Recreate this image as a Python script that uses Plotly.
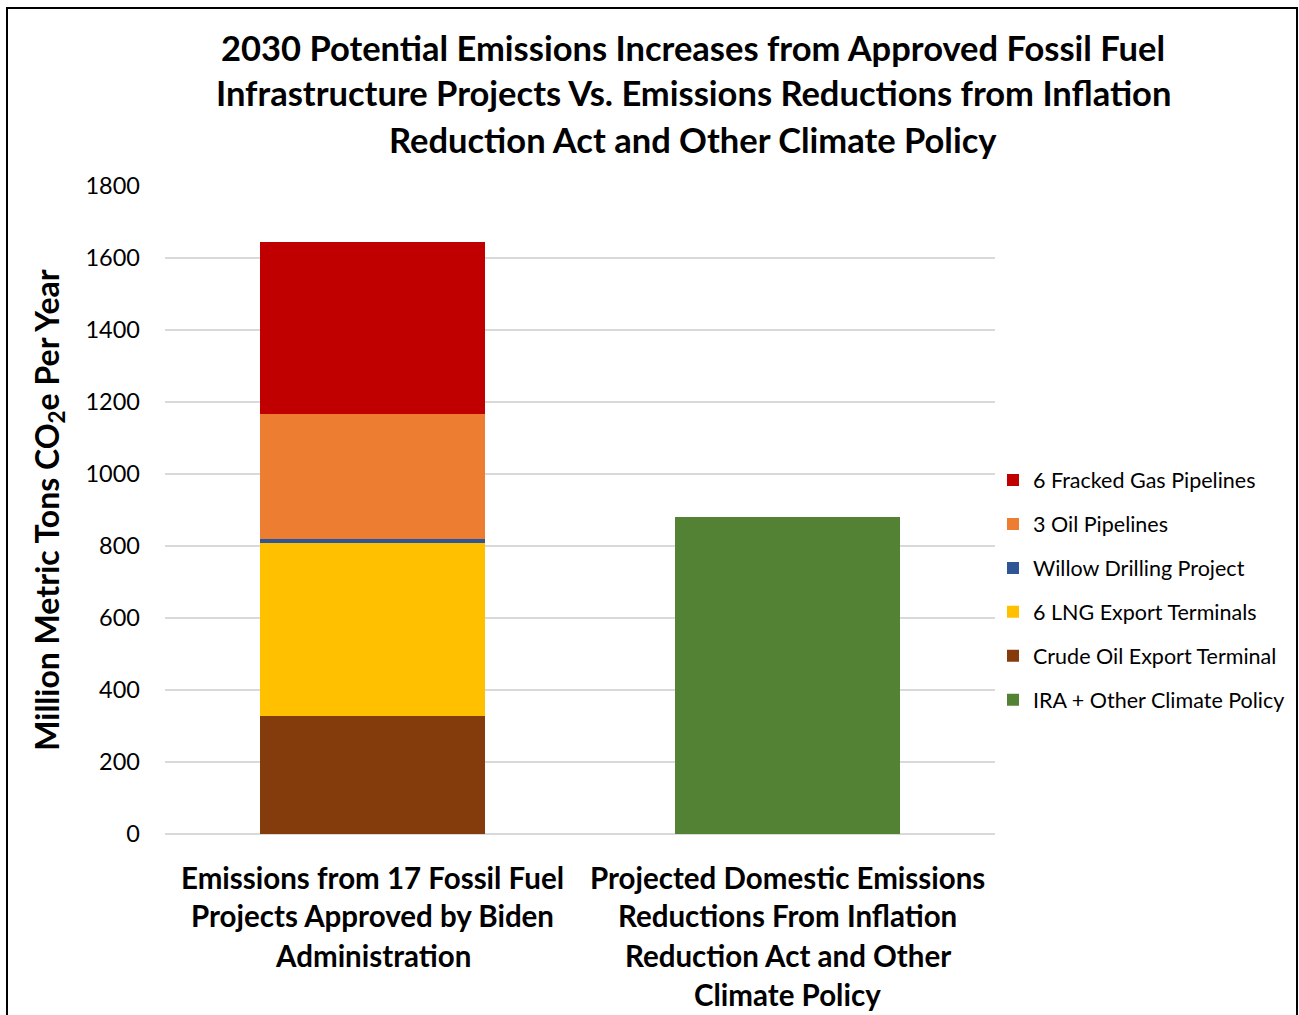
import plotly.graph_objects as go

categories = [
    "Emissions from 17 Fossil Fuel<br>Projects Approved by Biden<br>Administration",
    "Projected Domestic Emissions<br>Reductions From Inflation<br>Reduction Act and Other<br>Climate Policy",
]
cat_keys = ["fossil", "ira"]

series_names = [
    "Crude Oil Export Terminal",
    "6 LNG Export Terminals",
    "Willow Drilling Project",
    "3 Oil Pipelines",
    "6 Fracked Gas Pipelines",
    "IRA + Other Climate Policy",
]
series_values = [
    [328, 0],
    [479, 0],
    [12, 0],
    [348, 0],
    [478, 0],
    [0, 881],
]
series_colors = ["#843C0C", "#FFC000", "#2F5597", "#ED7D31", "#C00000", "#548235"]
legend_ranks = [5, 4, 3, 2, 1, 6]

y_ticks = [0, 200, 400, 600, 800, 1000, 1200, 1400, 1600, 1800]

title_lines = [
    "2030 Potential Emissions Increases from Approved Fossil Fuel",
    "Infrastructure Projects Vs. Emissions Reductions from Inflation",
    "Reduction Act and Other Climate Policy",
]

FONT = "Lato"

fig = go.Figure()
for name, vals, col, rk in zip(series_names, series_values, series_colors, legend_ranks):
    xs = [k for k, v in zip(cat_keys, vals) if v]
    ys = [v for v in vals if v]
    fig.add_trace(go.Bar(
        x=xs, y=ys, name=name, marker_color=col, marker_line_width=0,
        legendrank=rk, legendgroup=name,
    ))

W, H = 1299, 1015
L, R, T, B = 165, 1299 - 995, 186, 1015 - 834
pw, ph = W - L - R, H - T - B

annotations = []
title_y = [48, 93, 139]
for line, yy in zip(title_lines, title_y):
    annotations.append(dict(
        text="<b>%s</b>" % line, x=(693 - L) / pw, xref="x domain", xanchor="center",
        y=(H - B - yy) / ph, yref="paper", yanchor="middle", showarrow=False,
        font=dict(family=FONT, size=34.5, color="#000000"),
    ))

line_gap = 39
first_line_y = 877
for key, label in zip(cat_keys, categories):
    for i, line in enumerate(label.split("<br>")):
        yy = first_line_y + i * line_gap
        annotations.append(dict(
            text="<b>%s</b>" % line, x=key, xref="x", xanchor="center",
            y=(H - B - yy) / ph, yref="paper", yanchor="middle", showarrow=False,
            font=dict(family=FONT, size=29.5, color="#000000"),
        ))

fig.update_layout(
    width=W, height=H,
    margin=dict(l=L, r=R, t=T, b=B, autoexpand=False),
    paper_bgcolor="white", plot_bgcolor="white",
    barmode="stack", bargap=0.458,
    font=dict(family=FONT, color="#000000"),
    showlegend=True,
    legend=dict(
        x=(993 - L) / pw, xanchor="left", y=(H - B - 590) / ph, yanchor="middle",
        traceorder="grouped", tracegroupgap=13,
        font=dict(family=FONT, size=21.5, color="#000000"),
        itemwidth=30, bgcolor="rgba(0,0,0,0)",
    ),
    xaxis=dict(
        categoryorder="array", categoryarray=cat_keys,
        showticklabels=False, showgrid=False, zeroline=False, showline=False, ticks="",
    ),
    yaxis=dict(
        range=[0, 1800], tickvals=y_ticks, ticktext=[str(v) for v in y_ticks],
        showgrid=True, gridcolor="#D9D9D9", gridwidth=1.5,
        zeroline=True, zerolinecolor="#D9D9D9", zerolinewidth=1.5,
        showline=False, ticks="", ticklabelstandoff=24,
        tickfont=dict(family=FONT, size=23.5, color="#000000"),
        title=dict(
            text="<b>Million Metric Tons CO<sub>2</sub>e Per Year</b>",
            font=dict(family=FONT, size=32, color="#000000"), standoff=16,
        ),
    ),
    annotations=annotations,
    shapes=[dict(
        type="rect", xref="paper", yref="paper",
        x0=(7 - L) / pw, x1=(1297 - L) / pw,
        y0=(H - B - 1030) / ph, y1=(H - B - 8) / ph,
        line=dict(color="#000000", width=2), fillcolor="rgba(0,0,0,0)", layer="above",
    )],
)

fig.write_html("out.html")
